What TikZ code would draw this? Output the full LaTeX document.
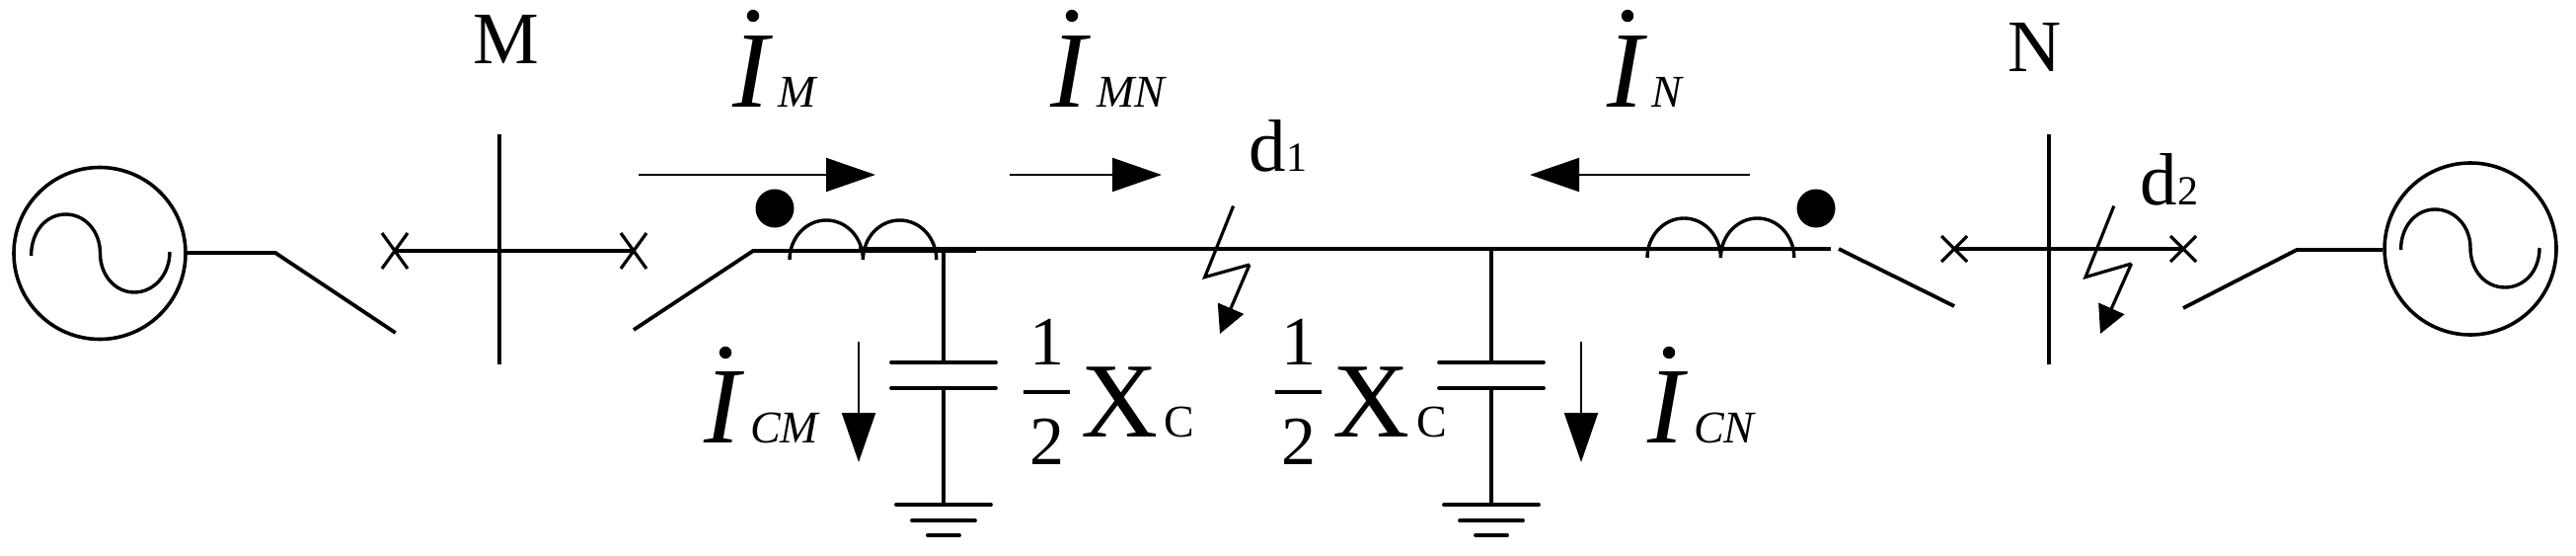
\documentclass[tikz,border=0pt]{standalone}
\usepackage{fontspec}
\setmainfont{Liberation Serif}
\usetikzlibrary{arrows.meta}
\tikzset{
  x=0.5pt,y=-0.5pt,
  wire/.style={line width=1.9pt},
  crossline/.style={line width=1.6pt},
  busline/.style={line width=1.95pt},
  stubline/.style={line width=1.65pt},
  plate/.style={line width=1.9pt,line cap=round},
  coilline/.style={line width=1.7pt},
  gen/.style={circle,draw,line width=1.8pt,minimum size=87pt,inner sep=0pt},
  sinewave/.style={line width=1.7pt},
  current/.style={line width=1.1pt,-{Triangle[length=25pt,width=17pt]}},
  strike/.style={line width=1.6pt,line join=miter},
  strikehead/.style={line width=1.6pt,-{Triangle[length=14pt,width=14pt]}},
  txt/.style={anchor=base west,inner sep=0pt,outer sep=0pt},
  label/.style={txt,font=\fontsize{37.5pt}{40pt}\selectfont},
  frac/.style={txt,font=\fontsize{35pt}{38pt}\selectfont},
  small/.style={txt,font=\fontsize{21pt}{24pt}\selectfont},
  big/.style={txt,font=\fontsize{54pt}{58pt}\selectfont},
  bigit/.style={txt,font=\fontsize{55pt}{58pt}\selectfont\itshape},
  subit/.style={txt,font=\fontsize{23pt}{26pt}\selectfont\itshape},
  dotnode/.style={circle,fill,inner sep=0pt,minimum size=19.5pt},
  accentdot/.style={circle,fill,inner sep=0pt,minimum size=6.2pt},
}
\begin{document}
\begin{tikzpicture}
\useasboundingbox (0,0) rectangle (2610,562);
% generators
\node[gen] (G1) at (101,256.5) {};
\node[gen] (G2) at (2503,252) {};
\draw[sinewave] (31.6,259) .. controls (31.6,234) and (47,217) .. (66.6,217) .. controls (86,217) and (101.5,234) .. (101.5,256.6) .. controls (101.5,279) and (117,296) .. (136,296) .. controls (156,296) and (172,278) .. (172,255);
\draw[sinewave] (2432.5,253) .. controls (2432.5,229) and (2448,212) .. (2467,212) .. controls (2487,212) and (2503,229) .. (2503,251) .. controls (2503,274) and (2518,291) .. (2538,291) .. controls (2558,291) and (2573,274) .. (2573,251);
% key coordinates
\coordinate (k1) at (279,256);
\coordinate (s1) at (400.7,337);
\coordinate (x1) at (400,254);
\coordinate (x2) at (642,254);
\coordinate (s2) at (642,334);
\coordinate (k2) at (763,254);
\coordinate (e2) at (989,254);
\coordinate (m1) at (870,252);
\coordinate (m2) at (1855,252);
\coordinate (k3) at (1863,252);
\coordinate (s3) at (1980,310);
\coordinate (x3) at (1980,252);
\coordinate (x4) at (2212,252);
\coordinate (s4) at (2212,312);
\coordinate (k4) at (2327,253);
% switches and lines
\draw[wire] (G1.east |- k1) -- (k1) -- (s1);
\draw[wire] (x1) -- (x2);
\draw[wire] (s2) -- (k2) -- (e2);
\draw[wire] (m1) -- (m2);
\draw[wire] (k3) -- (s3);
\draw[wire] (x3) -- (x4);
\draw[wire] (s4) -- (k4) -- (G2.west |- k4);
% crosses
\draw[crossline] ([shift={(-13,-18)}]x1) -- ([shift={(13,18)}]x1) ([shift={(13,-18)}]x1) -- ([shift={(-13,18)}]x1);
\draw[crossline] ([shift={(-13,-18)}]x2) -- ([shift={(13,18)}]x2) ([shift={(13,-18)}]x2) -- ([shift={(-13,18)}]x2);
\draw[crossline] ([shift={(-13,-13)}]x3) -- ([shift={(13,13)}]x3) ([shift={(13,-13)}]x3) -- ([shift={(-13,13)}]x3);
\draw[crossline] ([shift={(-13,-13)}]x4) -- ([shift={(13,13)}]x4) ([shift={(13,-13)}]x4) -- ([shift={(-13,13)}]x4);
% buses
\coordinate (bM1) at (506,135.5); \coordinate (bM2) at (506,369);
\coordinate (bN1) at (2076,135.5); \coordinate (bN2) at (2076,369);
\draw[busline] (bM1) -- (bM2);
\draw[busline] (bN1) -- (bN2);
% coils
\draw[coilline] (800,263) arc[start angle=180,end angle=0,x radius=18.6pt,y radius=20pt] arc[start angle=180,end angle=0,x radius=18.6pt,y radius=20pt];
\draw[coilline] (1669,261) arc[start angle=180,end angle=0,x radius=18.6pt,y radius=20pt] arc[start angle=180,end angle=0,x radius=18.6pt,y radius=20pt];
\node[dotnode] (dl) at (785,211) {};
\node[dotnode] (dr) at (1840,211) {};
% capacitors
\foreach \cx in {956,1511}{
  \coordinate (top) at (\cx,252);
  \coordinate (pa) at (\cx,367);
  \coordinate (pb) at (\cx,393);
  \coordinate (g1) at (\cx,511);
  \draw[stubline] (top) -- (pa);
  \draw[stubline] (pb) -- (g1);
  \draw[plate] ([xshift=-26.5pt]pa) -- ([xshift=26.5pt]pa);
  \draw[plate] ([xshift=-26.5pt]pb) -- ([xshift=26.5pt]pb);
  \draw[plate] ([xshift=-24pt]g1) -- ([xshift=24pt]g1);
  \draw[plate] ([shift={(-16pt,-8pt)}]g1) -- ([shift={(16pt,-8pt)}]g1);
  \draw[plate] ([shift={(-8pt,-15.5pt)}]g1) -- ([shift={(8pt,-15.5pt)}]g1);
}
% current arrows
\coordinate (a1) at (647,177); \coordinate (b1) at (887,177);
\coordinate (a2) at (1022.6,177); \coordinate (b2) at (1177,177);
\coordinate (a3) at (1773,177); \coordinate (b3) at (1550,177);
\coordinate (a4) at (870,346); \coordinate (b4) at (870,468);
\coordinate (a5) at (1602,346); \coordinate (b5) at (1602,468);
\draw[current] (a1) -- (b1);
\draw[current] (a2) -- (b2);
\draw[current] (a3) -- (b3);
\draw[current] (a4) -- (b4);
\draw[current] (a5) -- (b5);
% lightning strikes
\coordinate (f1) at (1249.6,208.6); \coordinate (f2) at (1220.7,280.6); \coordinate (f3) at (1266,268); \coordinate (f4) at (1236,338);
\draw[strike] (f1) -- (f2) -- (f3);
\draw[strikehead] (f3) -- (f4);
\coordinate (h1) at (2141.8,208.6); \coordinate (h2) at (2113,280.6); \coordinate (h3) at (2159.5,267); \coordinate (h4) at (2128,338);
\draw[strike] (h1) -- (h2) -- (h3);
\draw[strikehead] (h3) -- (h4);
% text
\node[label] (tM) at (479,64) {M};
\node[label] (tN) at (2034,72) {N};
\node[bigit] (iM) at (742,108) {I};
\node[accentdot] (pM) at (763,16) {};
\node[subit] (sM) at (788,108) {M};
\node[bigit] (iMN) at (1064,108) {I};
\node[accentdot] (pMN) at (1086,16) {};
\node[subit] (sMN) at (1111,108) {MN};
\node[bigit] (iN) at (1628,108) {I};
\node[accentdot] (pN) at (1649,16) {};
\node[subit] (sN) at (1673,108) {N};
\node[bigit] (iCM) at (713,448) {I};
\node[accentdot] (pCM) at (735,357) {};
\node[subit] (sCM) at (760,448) {CM};
\node[bigit] (iCN) at (1669,448) {I};
\node[accentdot] (pCN) at (1691,357) {};
\node[subit] (sCN) at (1716,448) {CN};
\node[label] (d1) at (1265,173) {d};
\node[small] (d1s) at (1303,173) {1};
\node[label] (d2) at (2168,207) {d};
\node[small] (d2s) at (2206,207) {2};
\node[frac] (n1) at (1043,369) {1};
\node[frac] (n2) at (1043,470) {2};
\coordinate (fa1) at (1036.5,397); \coordinate (fb1) at (1084,397);
\draw[plate,line cap=butt] (fa1) -- (fb1);
\node[big] (X1) at (1095,442) {X};
\node[subit] (c1) at (1179,442) {\upshape C};
\node[frac] (n3) at (1298,369) {1};
\node[frac] (n4) at (1298,470) {2};
\coordinate (fa2) at (1292,397); \coordinate (fb2) at (1339,397);
\draw[plate,line cap=butt] (fa2) -- (fb2);
\node[big] (X2) at (1350,442) {X};
\node[subit] (c2) at (1435,442) {\upshape C};
\end{tikzpicture}
\end{document}
